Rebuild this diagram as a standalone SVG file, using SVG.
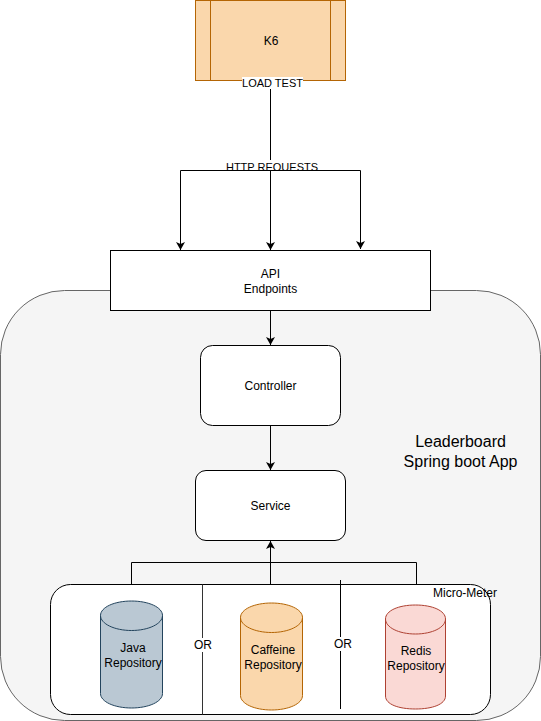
<svg xmlns="http://www.w3.org/2000/svg" width="541" height="721" viewBox="0 0 541 721">
<defs>
<marker id="a" markerUnits="userSpaceOnUse" markerWidth="10" markerHeight="10" refX="8" refY="4.5" orient="auto"><path d="M0 0L8 4.500L0 9L2 4.500Z" fill="#000"/></marker>
</defs>
<style>
text{font-family:"Liberation Sans",Arial,sans-serif;font-size:12px;fill:#000;text-anchor:middle}
.box{fill:#fff;stroke:#000;stroke-width:1}
.c{fill:none;stroke:#000;stroke-width:1}
.ar{marker-end:url(#a)}
.lbl{font-size:11px}
.big{font-size:16px}
</style>
<rect width="541" height="721" fill="#fff"/>
<g id="app"><rect x="0.500" y="290.500" width="540" height="430" rx="64" fill="#f5f5f5" stroke="#666"/><text x="460.500" y="447" class="big">Leaderboard</text><text x="460.500" y="467" class="big">Spring boot App</text></g>
<g id="micrometer"><rect x="50.500" y="584.500" width="440" height="130" rx="20" class="box"/><text x="465" y="597">Micro-Meter</text></g>
<g id="k6"><rect x="195.500" y="0.500" width="150" height="80" fill="#fad7ac" stroke="#b46504"/><path d="M210.500 0.500V80.500M330.500 0.500V80.500" fill="none" stroke="#b46504"/><text x="271" y="45">K6</text></g>
<g id="api"><rect x="110.500" y="250.500" width="320" height="60" class="box"/><text x="270.500" y="278">API</text><text x="270.500" y="293">Endpoints</text></g>
<g id="controller"><rect x="200.500" y="345.500" width="140" height="80" rx="12" class="box"/><text x="270.500" y="390">Controller</text></g>
<g id="service"><rect x="195.500" y="470.500" width="150" height="70" rx="10.500" class="box"/><text x="270.500" y="510">Service</text></g>
<g id="connectors">
<path class="c" d="M270.500 80.500V170.500"/>
<rect x="226" y="160" width="92" height="14" fill="#fff"/>
<text x="272" y="171" class="lbl">HTTP REQUESTS</text>
<rect x="226" y="171" width="92" height="3" fill="#fff"/>
<rect x="242" y="77" width="61" height="12" fill="#fff"/>
<text x="272.500" y="87" class="lbl">LOAD TEST</text>
<path class="c ar" d="M270.500 170.500V250"/>
<path class="c ar" d="M270.500 170.500H180.500V250"/>
<path class="c ar" d="M270.500 170.500H360.500V249"/>
<path class="c ar" d="M270.500 310.500V345"/>
<path class="c ar" d="M270.500 425.500V470"/>
<path class="c ar" d="M270.500 584.500V541"/>
<path class="c" d="M131.500 584.500V562.500H416.500V584.500"/>
<path d="M202.500 584.500V714.500" fill="none" stroke="#333"/>
<path d="M340.500 580V709" fill="none" stroke="#000"/>
<rect x="195" y="638" width="17" height="14" fill="#fff"/><text x="203" y="649">OR</text>
<rect x="335" y="637" width="17" height="14" fill="#fff"/><text x="343" y="648">OR</text>
</g>
<g id="java"><path d="M100.500 615.500V693.500C100.500 701.800 114.500 708 131.500 708S162.500 701.800 162.500 693.500V615.500C162.500 607.200 148.500 601 131.500 601S100.500 607.200 100.500 615.500C100.500 623.800 114.500 630.500 131.500 630.500S162.500 623.800 162.500 615.500" fill="#bac8d3" stroke="#23445d"/><text x="133" y="652">Java</text><text x="133" y="667">Repository</text></g>
<g id="caffeine"><path d="M240.500 617.500V695.500C240.500 703.800 254.500 710 271.500 710S302.500 703.800 302.500 695.500V617.500C302.500 609.200 288.500 603 271.500 603S240.500 609.200 240.500 617.500C240.500 625.800 254.500 632.500 271.500 632.500S302.500 625.800 302.500 617.500" fill="#fad7ac" stroke="#b46504"/><text x="273" y="654">Caffeine</text><text x="273" y="669">Repository</text></g>
<g id="redis"><path d="M385.500 619V696C385.500 704.300 398.500 709 415.500 709S445.500 704.300 445.500 696V619C445.500 610.700 432.500 605 415.500 605S385.500 610.700 385.500 619C385.500 627.300 398.500 634 415.500 634S445.500 627.300 445.500 619" fill="#fad9d5" stroke="#ae4132"/><text x="416" y="655">Redis</text><text x="416" y="670">Repository</text></g>
</svg>
